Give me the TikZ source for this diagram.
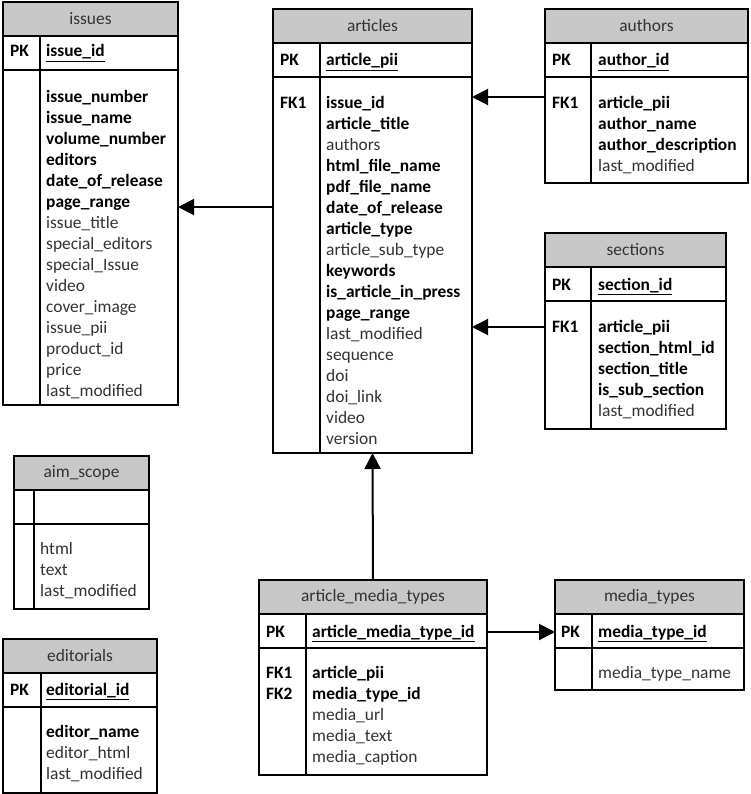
\documentclass[tikz,border=0pt]{standalone}
\usepackage{fontspec}
\setmainfont{Carlito}
\usetikzlibrary{calc, arrows.meta}

\definecolor{hdrgray}{RGB}{200,200,200}
\definecolor{txtgray}{RGB}{50,50,50}

\tikzset{
	table/.style = {rectangle, anchor = north west, inner sep = 0, outer sep = 0},
	rule/.style = {line width = 1.1bp},
	txt/.style = {font = \fontsize{17.4bp}{21bp}\selectfont, inner sep = 0, anchor = base west, align = left},
	title/.style = {txt, anchor = center, text = txtgray},
	fk/.style = {line width = 2bp, -{Triangle[length = 16bp, width = 16bp]}}
}

\newcommand{\fb}[1]{{\bfseries\color{black}#1}}
\newcommand{\fr}[1]{{\color{txtgray}#1}}

\begin{document}
\begin{tikzpicture}[x = 1bp, y = -1bp]
		\useasboundingbox (0,0) rectangle (751,794);
		
		% header, key row, key column and title of one table
		\def\ertable#1#2#3{
			\fill [hdrgray] (#1.north west) rectangle ($ (#1.north east) + (0,34) $);
			\draw [rule] (#1.north west) rectangle (#1.south east);
			\draw [rule] ($ (#1.north west) + (0,34) $) -- ($ (#1.north east) + (0,34) $);
			\draw [rule] ($ (#1.north west) + (0,68) $) -- ($ (#1.north east) + (0,68) $);
			\draw [rule] ($ (#1.north west) + (#2,34) $) -- ($ (#1.south west) + (#2,0) $);
			\node [title] (#1 title) at ($ (#1.north) + (0,17) $) {#3};
		}
		
		% field lists sit on the baseline of their last line
		
		% issues
		\node [table, minimum width = 175bp, minimum height = 403bp] (issues) at (3,2) {};
		\ertable{issues}{37}{issues}
		\node [txt] (issues pk) at (10,57) {\fb{PK}};
		\node [txt] (issues id) at (46,57) {\fb{\underline{issue\_id}}};
		\node [txt] (issues fields) at (46,396) {\fb{issue\_number}\\ \fb{issue\_name}\\ \fb{volume\_number}\\ \fb{editors}\\ \fb{date\_of\_release}\\ \fb{page\_range}\\ \fr{issue\_title}\\ \fr{special\_editors}\\ \fr{special\_Issue}\\ \fr{video}\\ \fr{cover\_image}\\ \fr{issue\_pii}\\ \fr{product\_id}\\ \fr{price}\\ \fr{last\_modified}};
		
		% articles
		\node [table, minimum width = 199bp, minimum height = 444bp] (articles) at (273,9) {};
		\ertable{articles}{47}{articles}
		\node [txt] (articles pk) at (280,66) {\fb{PK}};
		\node [txt] (articles id) at (326,66) {\fb{\underline{article\_pii}}};
		\node [txt] (articles fk) at (280,108) {\fb{FK1}};
		\node [txt] (articles fields) at (326,444) {\fb{issue\_id}\\ \fb{article\_title}\\ \fr{authors}\\ \fb{html\_file\_name}\\ \fb{pdf\_file\_name}\\ \fb{date\_of\_release}\\ \fb{article\_type}\\ \fr{article\_sub\_type}\\ \fb{keywords}\\ \fb{is\_article\_in\_press}\\ \fb{page\_range}\\ \fr{last\_modified}\\ \fr{sequence}\\ \fr{doi}\\ \fr{doi\_link}\\ \fr{video}\\ \fr{version}};
		
		% authors
		\node [table, minimum width = 203bp, minimum height = 174bp] (authors) at (545,9) {};
		\ertable{authors}{46}{authors}
		\node [txt] (authors pk) at (552,66) {\fb{PK}};
		\node [txt] (authors id) at (598,66) {\fb{\underline{author\_id}}};
		\node [txt] (authors fk) at (552,108) {\fb{FK1}};
		\node [txt] (authors fields) at (598,171) {\fb{article\_pii}\\ \fb{author\_name}\\ \fb{author\_description}\\ \fr{last\_modified}};
		
		% sections
		\node [table, minimum width = 181bp, minimum height = 196bp] (sections) at (545,233) {};
		\ertable{sections}{46}{sections}
		\node [txt] (sections pk) at (552,290) {\fb{PK}};
		\node [txt] (sections id) at (598,290) {\fb{\underline{section\_id}}};
		\node [txt] (sections fk) at (552,332) {\fb{FK1}};
		\node [txt] (sections fields) at (598,416) {\fb{article\_pii}\\ \fb{section\_html\_id}\\ \fb{section\_title}\\ \fb{is\_sub\_section}\\ \fr{last\_modified}};
		
		% aim_scope
		\node [table, minimum width = 135bp, minimum height = 153bp] (aimscope) at (14,456) {};
		\ertable{aimscope}{20}{aim\_scope}
		\node [txt] (aimscope fields) at (40,596) {\fr{html}\\ \fr{text}\\ \fr{last\_modified}};
		
		% editorials
		\node [table, minimum width = 154bp, minimum height = 154bp] (editorials) at (3,639) {};
		\ertable{editorials}{38}{editorials}
		\node [txt] (editorials pk) at (10,695) {\fb{PK}};
		\node [txt] (editorials id) at (46,695) {\fb{\underline{editorial\_id}}};
		\node [txt] (editorials fields) at (46,779) {\fb{editor\_name}\\ \fr{editor\_html}\\ \fr{last\_modified}};
		
		% article_media_types
		\node [table, minimum width = 228bp, minimum height = 195bp] (amtypes) at (259,580) {};
		\ertable{amtypes}{47}{article\_media\_types}
		\node [txt] (amtypes pk) at (266,637) {\fb{PK}};
		\node [txt] (amtypes id) at (312,637) {\fb{\underline{article\_media\_type\_id}}};
		\node [txt] (amtypes fk) at (266,699) {\fb{FK1}\\ \fb{FK2}};
		\node [txt] (amtypes fields) at (312,762) {\fb{article\_pii}\\ \fb{media\_type\_id}\\ \fr{media\_url}\\ \fr{media\_text}\\ \fr{media\_caption}};
		
		% media_types
		\node [table, minimum width = 189bp, minimum height = 110bp] (mediatypes) at (555,580) {};
		\ertable{mediatypes}{37}{media\_types}
		\node [txt] (mediatypes pk) at (561,637) {\fb{PK}};
		\node [txt] (mediatypes id) at (598,637) {\fb{\underline{media\_type\_id}}};
		\node [txt] (mediatypes fields) at (598,678) {\fr{media\_type\_name}};
		
		% links
		\coordinate (issues link) at (0,207);
		\coordinate (authors link) at (0,97);
		\coordinate (sections link) at (0,327);
		\coordinate (media link) at (0,632);
		
		\draw [fk] (articles.west |- issues link) -- (issues.east |- issues link);
		\draw [fk] (authors.west |- authors link) -- (articles.east |- authors link);
		\draw [fk] (sections.west |- sections link) -- (articles.east |- sections link);
		\draw [fk] (amtypes.north) -- (articles.south);
		\draw [fk] (amtypes.east |- media link) -- (mediatypes.west |- media link);
	\end{tikzpicture}
\end{document}
